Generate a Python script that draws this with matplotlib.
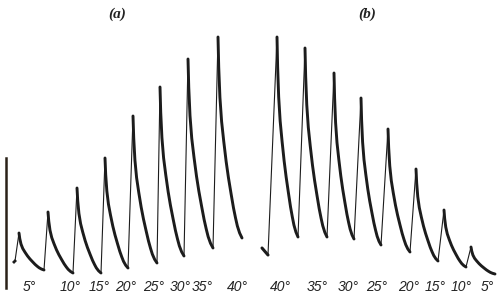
import numpy as np
import matplotlib
matplotlib.use("Agg")
import matplotlib.pyplot as plt

H = 298  # height reference (tension measured upward from bottom of record)

# ---- Series (a): rising temperature ----
a_temps = [5, 10, 15, 20, 25, 30, 35, 40]
a_start_t, a_start_y = 15, 261
a_peak_t = [19, 48, 77, 105, 133, 160, 188, 218]
a_peak_y = [233, 212, 188, 158, 116, 87, 59, 37]
a_end_t = [44, 73, 101, 128, 157, 184, 213, 242]
a_end_y = [270, 273, 273, 268, 263, 256, 248, 238]
a_label_t = [29, 70, 99, 126, 154, 180, 202, 237]

# ---- Series (b): falling temperature ----
b_temps = [40, 35, 30, 25, 20, 15, 10, 5]
b_start_t, b_start_y = [262, 268], [248, 255]
b_peak_t = [277, 305, 334, 361, 388, 416, 444, 471]
b_peak_y = [37, 48, 73, 98, 129, 169, 210, 247]
b_end_t = [298, 327, 354, 381, 410, 438, 466, 495]
b_end_y = [237, 237, 239, 245, 252, 261, 267, 274]
b_label_t = [280, 317, 348, 377, 409, 435, 461, 487]

# relaxation profile (fraction of interval vs fraction of fall)
prof_t = [0.0, 0.03, 0.08, 0.15, 0.24, 0.34, 0.435, 0.545, 0.645, 0.73, 0.806, 0.9, 1.0]
prof_f = [0.0, 0.15, 0.30, 0.42, 0.52, 0.62, 0.70, 0.78, 0.85, 0.90, 0.94, 0.975, 1.0]

# calibration bar
bar_t = 6
bar_y = [158, 288]

ink = "#1c1c1c"

fig = plt.figure(figsize=(5.0, 2.98), dpi=100)
ax = fig.add_axes([0, 0, 1, 1])
ax.set_xlim(0, 500)
ax.set_ylim(0, H)
ax.axis("off")

def h(y):
    return H - np.asarray(y, dtype=float)

def draw_series(start_t, start_y, peak_t, peak_y, end_t, end_y):
    pt = np.array(prof_t)
    pf = np.array(prof_f)
    prev_t, prev_y = start_t, start_y
    for i in range(len(peak_t)):
        # rising phase (thin stroke)
        ax.plot([prev_t, peak_t[i]], h([prev_y, peak_y[i]]), color=ink, lw=0.8,
                solid_capstyle="round")
        # relaxation (heavy stroke)
        tt = peak_t[i] + (end_t[i] - peak_t[i]) * pt
        yy = peak_y[i] + (end_y[i] - peak_y[i]) * pf
        ax.plot(tt, h(yy), color=ink, lw=2.1, solid_capstyle="round",
                solid_joinstyle="round")
        prev_t, prev_y = end_t[i], end_y[i]

# (a)
ax.plot([a_start_t - 1, a_start_t], h([a_start_y + 1, a_start_y]), color=ink, lw=2.0)
draw_series(a_start_t, a_start_y, a_peak_t, a_peak_y, a_end_t, a_end_y)
# (b)
ax.plot(b_start_t, h(b_start_y), color=ink, lw=2.2, solid_capstyle="round")
draw_series(b_start_t[-1], b_start_y[-1], b_peak_t, b_peak_y, b_end_t, b_end_y)

# calibration bar
ax.plot([bar_t, bar_t], h(bar_y), color="#2a2118", lw=1.8)

# temperature labels
lab_font = dict(family="Liberation Sans", style="italic", size=10, color="#222222")
for t, T in zip(a_label_t, a_temps):
    ax.text(t, H - 287, f"{T}°", ha="center", va="center", **lab_font)
for t, T in zip(b_label_t, b_temps):
    ax.text(t, H - 287, f"{T}°", ha="center", va="center", **lab_font)

# panel titles
ttl = dict(family="Liberation Serif", style="italic", weight="bold", size=11, color="#222222")
ax.text(117, H - 14, "(a)", ha="center", va="center", **ttl)
ax.text(367, H - 14, "(b)", ha="center", va="center", **ttl)

fig.savefig("out.png", dpi=100)
